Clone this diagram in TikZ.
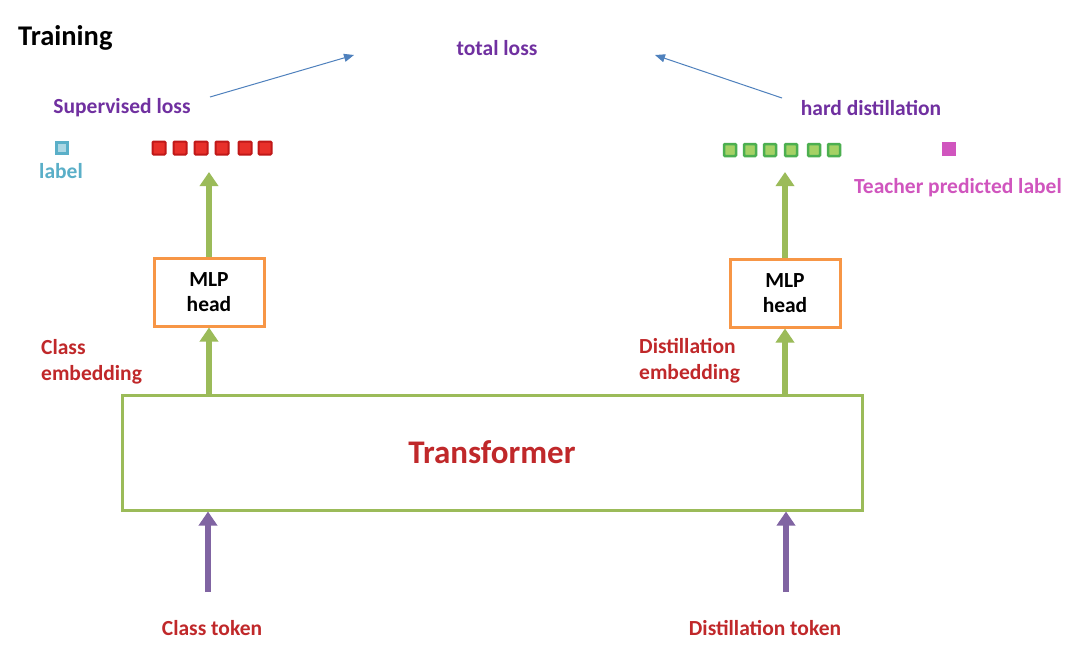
\documentclass[tikz,border=0pt]{standalone}
\usepackage{fontspec}
\setmainfont{Carlito}
\usetikzlibrary{arrows.meta,calc}
\definecolor{tred}{HTML}{C0282A}
\definecolor{tpurple}{HTML}{7030A0}
\definecolor{tcyan}{HTML}{5AAFC8}
\definecolor{tmag}{HTML}{D055BE}
\definecolor{bgreen}{HTML}{9BBB59}
\definecolor{borange}{HTML}{F79646}
\definecolor{apurple}{HTML}{8064A2}
\definecolor{ablue}{HTML}{4F81BD}
\definecolor{sqred}{HTML}{E8302A}
\definecolor{sqredb}{HTML}{C01818}
\definecolor{sqgreen}{HTML}{A5D165}
\definecolor{sqgreenb}{HTML}{4CAF50}
\begin{document}
\begin{tikzpicture}[x=1pt,y=-1pt,
  txt/.style={inner sep=0pt,font=\bfseries\fontsize{21.5}{26}\selectfont},
  mlpbox/.style={draw=borange,line width=3pt,minimum width=110pt,minimum height=68pt,align=center,inner sep=0pt,font=\bfseries\fontsize{21.5}{25}\selectfont},
  garrow/.style={draw=bgreen,line width=6pt,-{Triangle[width=18pt,length=14pt]}},
  parrow/.style={draw=apurple,line width=6pt,-{Triangle[width=18pt,length=14pt]}},
  barrow/.style={draw=ablue,line width=1pt,-{Triangle[width=8pt,length=10pt]}},
  redsq/.style={draw=sqredb,fill=sqred,line width=2pt,minimum size=13pt,inner sep=0pt,rounded corners=1pt},
  greensq/.style={draw=sqgreenb,fill=sqgreen,line width=2.5pt,minimum size=12pt,inner sep=0pt,rounded corners=1pt},
]
\useasboundingbox (0,0) rectangle (1080,649);
\fill[white] (0,0) rectangle (1080,649);

\node[txt,anchor=west,font=\bfseries\fontsize{28.5}{32}\selectfont] (train) at (18,38) {Training};
\node[txt,text=tpurple] (total) at (497,48) {total loss};
\node[txt,text=tpurple] (sup) at (122,108) {Supervised loss};
\node[txt,text=tpurple] (hard) at (871,108) {hard distillation};

\node[draw=tcyan,fill=tcyan!50,line width=2.5pt,minimum size=11pt,inner sep=0pt] (lab) at (62,148) {};
\node[txt,text=tcyan] (labt) at (61,171) {label};

\foreach \x [count=\i] in {159,180,201,222,245,265}
  \node[redsq] (r\i) at (\x,148) {};
\foreach \x [count=\i] in {730,750,770,791,814,834}
  \node[greensq] (g\i) at (\x,150) {};
\node[fill=tmag,minimum size=14pt,inner sep=0pt] (tsq) at (949,149) {};
\node[txt,text=tmag] (teach) at (958,188) {Teacher predicted label};

\node[mlpbox] (mlp1) at (209,292) {MLP\\head};
\node[mlpbox] (mlp2) at (785,293) {MLP\\head};

\node[txt,text=tred,anchor=west,align=left] (cemb) at (41,362) {Class\\embedding};
\node[txt,text=tred,anchor=west,align=left] (demb) at (639,361) {Distillation\\embedding};

\node[draw=bgreen,line width=3pt,minimum width=740pt,minimum height=115pt,inner sep=0pt,text=tred,font=\bfseries\fontsize{33}{38}\selectfont] (trans) at (492,452.5) {Transformer};

\node[txt,text=tred] (ctok) at (212,628) {Class token};
\node[txt,text=tred] (dtok) at (765,628) {Distillation token};

% green arrows
\draw[garrow] (trans.north -| mlp1.south) -- (mlp1.south);
\draw[garrow] (trans.north -| mlp2.south) -- (mlp2.south);
\coordinate (t1) at (209,172);
\coordinate (t2) at (785,172);
\draw[garrow] (mlp1.north) -- (t1);
\draw[garrow] (mlp2.north) -- (t2);

% purple arrows
\coordinate (p1) at (208,592);
\coordinate (p2) at (786,592);
\draw[parrow] (p1) -- (p1 |- trans.south);
\draw[parrow] (p2) -- (p2 |- trans.south);

% blue arrows
\coordinate (b1s) at (210,97);
\coordinate (b1e) at (354,55);
\coordinate (b2s) at (782,98);
\coordinate (b2e) at (655,55);
\draw[barrow] (b1s) -- (b1e);
\draw[barrow] (b2s) -- (b2e);
\end{tikzpicture}
\end{document}
